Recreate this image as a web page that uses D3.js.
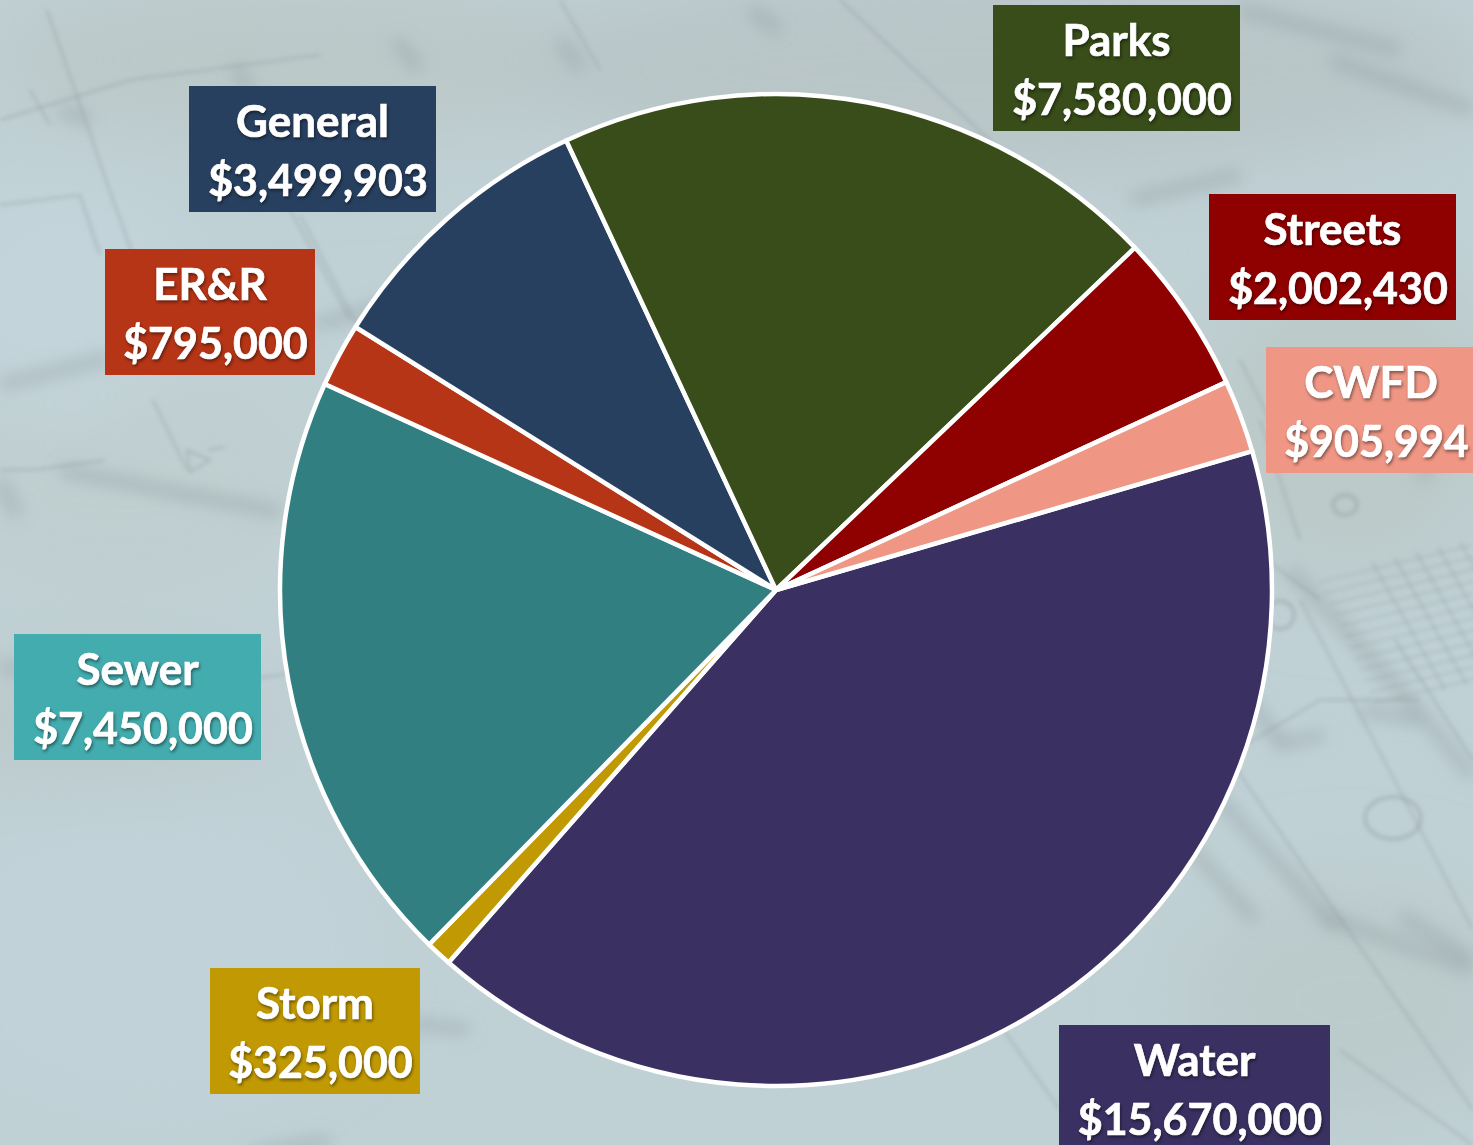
<!DOCTYPE html>
<html>
<head>
<meta charset="utf-8">
<title>Budget by fund</title>
<script src="https://cdn.jsdelivr.net/npm/d3@7"></script>
<style>
html, body { margin: 0; padding: 0; overflow: hidden; background: #c0d0d4; }
svg { display: block; }
.label text {
	font-family: Lato, "Open Sans", sans-serif;
	font-weight: 700;
	fill: #fff;
	stroke: #fff;
	stroke-width: 0.7px;
	text-anchor: middle;
	filter: drop-shadow(1px 2px 1.5px rgba(0,0,0,0.45));
}
</style>
</head>
<body>
<svg id="chart" width="1473" height="1145"></svg>
<script>
// slices run clockwise starting from the Water slice
var categories = ["Water", "Storm", "Sewer", "ER&R", "General", "Parks", "Streets", "CWFD"];
var amounts = [15670000, 325000, 7450000, 795000, 3499903, 7580000, 2002430, 905994];
var sliceColors = ["#3a3162", "#c19a03", "#327f82", "#b63516", "#284060", "#384d19", "#8f0000", "#ef9684"];
var boxColors = ["#3a3162", "#c19a03", "#43acaf", "#b63516", "#284060", "#384d19", "#8f0000", "#ef9684"];

// label box left / top corners, same order as categories
var boxLeft = [1059, 210, 14, 105, 189, 993, 1209, 1266];
var boxTop = [1025, 968, 634, 249, 86, 5, 194, 347];
var boxWidth = [271, 210, 247, 210, 247, 247, 247, 210];

var width = 1473, height = 1145;
var cx = 776, cy = 590, radius = 496;
var startAngle = 73.75 * Math.PI / 180;

var svg = d3.select("#chart");

function drawBackground() {
	var defs = svg.append("defs");
	defs.append("filter").attr("id", "blur1").append("feGaussianBlur").attr("stdDeviation", 2.2);
	defs.append("filter").attr("id", "blur2").append("feGaussianBlur").attr("stdDeviation", 8);
	defs.append("filter").attr("id", "blur3")
		.attr("x", "-20%").attr("y", "-20%").attr("width", "140%").attr("height", "140%")
		.append("feGaussianBlur").attr("stdDeviation", 40);

	svg.append("rect").attr("width", width).attr("height", height).attr("fill", "#c0d1d6");

	// large soft colour patches of the photo
	var patches = [
		[300, 60, 320, 90, "#bcc9c9"], [1000, 70, 500, 110, "#b9c6c8"], [1350, 420, 160, 170, "#bccac9"],
		[120, 480, 200, 120, "#c0cfd0"], [80, 720, 200, 60, "#bcc9ca"], [1350, 1000, 170, 120, "#bbcacb"],
		[150, 950, 200, 140, "#c1d3d9"], [60, 300, 120, 120, "#c3d4da"]
	];
	svg.append("g").attr("filter", "url(#blur3)").selectAll("ellipse").data(patches).enter().append("ellipse")
		.attr("cx", d => d[0]).attr("cy", d => d[1]).attr("rx", d => d[2]).attr("ry", d => d[3])
		.attr("fill", d => d[4]);

	var wide = [
		"M0,385 L110,358", "M315,325 L560,255", "M60,470 L280,512", "M0,665 L90,690 L210,700",
		"M1290,570 L1420,713 L1473,777", "M1210,790 L1340,930", "M1175,830 L1255,920",
		"M1250,700 L1282,745", "M1275,745 L1325,735", "M1360,710 L1420,720",
		"M1320,915 L1473,970", "M1400,915 L1473,960", "M380,1020 L470,1030", "M250,1155 L330,1140",
		"M0,480 L18,516", "M60,110 L90,120", "M235,65 L250,90", "M395,40 L420,70", "M560,40 L580,70",
		"M750,10 L780,30", "M1130,200 L1240,175", "M1240,10 L1400,50", "M1330,60 L1473,110", "M1480,380 L1420,480"
	];
	svg.append("g").attr("filter", "url(#blur2)").attr("fill", "none")
		.attr("stroke", "#8f9a9e").attr("stroke-opacity", 0.42).attr("stroke-width", 13)
		.selectAll("path").data(wide).enter().append("path").attr("d", d => d);

	var thin = [
		"M47,10 L113,200 L135,260", "M0,205 L80,195 L100,255", "M290,210 L350,320", "M300,215 L360,330",
		"M0,470 L35,470 L105,460", "M153,400 L187,470", "M187,450 L190,472 L210,460 Z", "M208,450 L225,447",
		"M215,685 L310,670", "M310,735 L350,725", "M340,790 L420,785",
		"M30,90 L50,125", "M0,120 L130,80", "M130,80 L320,55", "M560,0 L600,70",
		"M840,0 L1000,150", "M1240,360 L1280,440", "M1260,420 L1300,540",
		"M1245,745 L1320,700 L1350,700", "M1350,700 L1420,700", "M1300,600 L1473,930",
		"M1230,760 L1473,1110", "M1395,640 L1473,760", "M1240,540 L1320,600",
		"M1000,1025 L1060,1110", "M1340,1050 L1473,1145"
	];
	var lines = svg.append("g").attr("filter", "url(#blur1)").attr("fill", "none")
		.attr("stroke", "#8e999d").attr("stroke-opacity", 0.42).attr("stroke-width", 2.5);
	lines.selectAll("path").data(thin).enter().append("path").attr("d", d => d);

	// drawing details: round markers and the stair hatching at the right edge
	var rings = [[1393, 818, 28, 21], [1143, 877, 28, 20], [1280, 615, 14, 14], [1345, 505, 12, 10]];
	lines.selectAll("ellipse").data(rings).enter().append("ellipse")
		.attr("cx", d => d[0]).attr("cy", d => d[1]).attr("rx", d => d[2]).attr("ry", d => d[3])
		.attr("stroke-width", 4);
	d3.range(0, 12).forEach(function(i) {
		lines.append("path")
			.attr("d", "M" + (1320 + i * 5) + "," + (582 + i * 11) + " L" + (1473 + i * 5) + "," + (545 + i * 11))
			.attr("stroke-width", 1.8);
	});
	d3.range(0, 7).forEach(function(i) {
		lines.append("path")
			.attr("d", "M" + (1372 + i * 22) + "," + (562 - i * 5) + " L" + (1445 + i * 22) + "," + (690 - i * 5))
			.attr("stroke-width", 2);
	});
}

function drawPie() {
	var rows = categories.map(function(c, i) { return {name: c, value: amounts[i], color: sliceColors[i]}; });
	var pie = d3.pie().sort(null).value(d => d.value)
		.startAngle(startAngle).endAngle(startAngle + 2 * Math.PI);
	var arc = d3.arc().innerRadius(0).outerRadius(radius);

	svg.append("g")
		.attr("transform", "translate(" + cx + "," + cy + ")")
		.selectAll("path")
		.data(pie(rows))
		.enter()
		.append("path")
		.attr("d", arc)
		.style("fill", d => d.data.color)
		.style("stroke", "#fff")
		.style("stroke-width", "4.5px")
		.style("stroke-linejoin", "round");
}

function drawLabels() {
	var money = d3.format("$,");
	var groups = svg.selectAll("g.label")
		.data(categories)
		.enter()
		.append("g")
		.attr("class", "label")
		.attr("transform", (d, i) => "translate(" + boxLeft[i] + "," + boxTop[i] + ")");

	groups.append("rect")
		.attr("width", (d, i) => boxWidth[i])
		.attr("height", 126)
		.style("fill", (d, i) => boxColors[i]);

	groups.append("text")
		.attr("x", (d, i) => boxWidth[i] / 2)
		.attr("y", 51)
		.style("font-size", "44px")
		.text(d => d);

	groups.append("text")
		.attr("x", (d, i) => boxWidth[i] / 2 + 5.5)
		.attr("y", 109.5)
		.style("font-size", "43px")
		.text((d, i) => money(amounts[i]));
}

drawBackground();
drawPie();
drawLabels();
</script>
</body>
</html>
